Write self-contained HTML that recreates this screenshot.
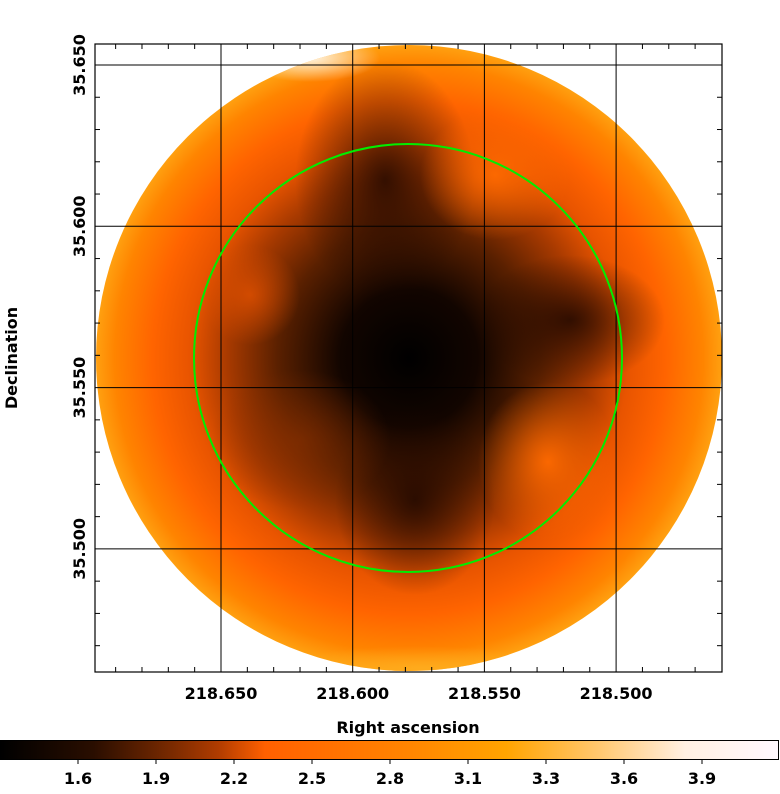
<!DOCTYPE html>
<html><head><meta charset="utf-8">
<style>
body{margin:0;background:#fff;width:780px;height:789px;overflow:hidden;font-family:"Liberation Sans","DejaVu Sans",sans-serif}
svg text{font-family:"DejaVu Sans","Liberation Sans",sans-serif;font-weight:bold;font-size:16px}
</style></head><body>
<svg id="s" width="780" height="789" viewBox="0 0 780 789">
<defs>
<clipPath id="disc"><circle cx="409" cy="358" r="313"/></clipPath>
<clipPath id="frame"><rect x="95" y="44" width="627" height="628"/></clipPath>
<radialGradient id="base" cx="409" cy="358" r="313" gradientUnits="userSpaceOnUse">
<stop offset="0" stop-color="#000"/>
<stop offset="0.22" stop-color="#120500"/>
<stop offset="0.42" stop-color="#5a2000"/>
<stop offset="0.58" stop-color="#a83a00"/>
<stop offset="0.7" stop-color="#e85400"/>
<stop offset="0.82" stop-color="#ff6400"/>
<stop offset="0.94" stop-color="#ff8400"/>
<stop offset="1" stop-color="#ffa010"/>
</radialGradient>
<radialGradient id="gDark"><stop offset="0" stop-color="#200800" stop-opacity="0.85"/><stop offset="1" stop-color="#200800" stop-opacity="0"/></radialGradient>
<radialGradient id="gBrown"><stop offset="0" stop-color="#8a3000" stop-opacity="0.6"/><stop offset="1" stop-color="#8a3000" stop-opacity="0"/></radialGradient>
<radialGradient id="gOrange"><stop offset="0" stop-color="#ff6a00" stop-opacity="0.95"/><stop offset="1" stop-color="#ff6a00" stop-opacity="0"/></radialGradient>
<radialGradient id="gRed"><stop offset="0" stop-color="#e05000" stop-opacity="0.8"/><stop offset="1" stop-color="#e05000" stop-opacity="0"/></radialGradient>
<radialGradient id="gWhite"><stop offset="0" stop-color="#fff4e4"/><stop offset="1" stop-color="#fff4e4" stop-opacity="0"/></radialGradient>
<radialGradient id="gYel"><stop offset="0" stop-color="#ffae20" stop-opacity="0.8"/><stop offset="1" stop-color="#ffae20" stop-opacity="0"/></radialGradient>
<linearGradient id="cbar" x1="0" x2="1" y1="0" y2="0">
<stop offset="0" stop-color="#000"/>
<stop offset="0.12" stop-color="#2a0e00"/>
<stop offset="0.22" stop-color="#7a2a00"/>
<stop offset="0.28" stop-color="#b03c00"/>
<stop offset="0.34" stop-color="#ff6000"/>
<stop offset="0.52" stop-color="#ff8400"/>
<stop offset="0.65" stop-color="#ffa400"/>
<stop offset="0.77" stop-color="#ffc870"/>
<stop offset="0.88" stop-color="#fff0e2"/>
<stop offset="1" stop-color="#fff8ff"/>
</linearGradient>
</defs>
<g clip-path="url(#frame)">
<g clip-path="url(#disc)">
<rect x="90" y="40" width="640" height="640" fill="url(#base)"/>
<ellipse cx="385" cy="180" rx="90" ry="120" fill="url(#gDark)"/>
<ellipse cx="570" cy="320" rx="95" ry="65" fill="url(#gDark)"/>
<ellipse cx="415" cy="500" rx="80" ry="95" fill="url(#gDark)"/>
<ellipse cx="300" cy="440" rx="90" ry="70" fill="url(#gBrown)"/>
<ellipse cx="250" cy="295" rx="50" ry="50" fill="url(#gRed)"/>
<ellipse cx="548" cy="462" rx="70" ry="80" fill="url(#gOrange)"/>
<ellipse cx="495" cy="175" rx="75" ry="65" fill="url(#gOrange)"/>
<ellipse cx="310" cy="58" rx="70" ry="24" fill="url(#gWhite)"/>
<ellipse cx="420" cy="668" rx="140" ry="22" fill="url(#gYel)"/>
</g>
</g>
<g id="grid"></g>
<circle cx="408" cy="358" r="214" fill="none" stroke="#00ee00" stroke-width="2"/>
<rect x="95" y="44" width="627" height="628" fill="none" stroke="#000" stroke-width="1.2"/>
<g id="ticks"></g>
<text x="408" y="733" text-anchor="middle">Right ascension</text>
<text transform="translate(17,358) rotate(-90)" text-anchor="middle">Declination</text>
<rect x="0.5" y="740.5" width="778" height="19" fill="url(#cbar)" stroke="#000"/>
<g id="cb"></g>
</svg>
<script>
const raTicks=[218.650,218.600,218.550,218.500];
const decTicks=[35.650,35.600,35.550,35.500];
const cbTicks=["1.6","1.9","2.2","2.5","2.8","3.1","3.3","3.6","3.9"];
const NS='http://www.w3.org/2000/svg';
function xRA(v){return 221+(218.650-v)/0.05*131.7;}
function yDec(v){return 65+(35.650-v)/0.05*161.3;}
function xCb(i){return 78+i*78;}
function mk(tag,attrs,parent){const e=document.createElementNS(NS,tag);for(const k in attrs)e.setAttribute(k,attrs[k]);parent.appendChild(e);return e;}
const grid=document.getElementById('grid'),ticks=document.getElementById('ticks'),cb=document.getElementById('cb');
raTicks.forEach(v=>{const x=xRA(v);
 const l=mk('line',{x1:x,x2:x,y1:44,y2:672,stroke:'#000','stroke-width':1},grid);
 
 
 const t=mk('text',{x:x,y:699,'text-anchor':'middle'},ticks);t.textContent=v.toFixed(3);
 
 
});
decTicks.forEach(v=>{const y=yDec(v);
 const l=mk('line',{x1:95,x2:722,y1:y,y2:y,stroke:'#000','stroke-width':1},grid);
 
 
 const t=mk('text',{transform:'translate(85,'+y+') rotate(-90)','text-anchor':'middle'},ticks);t.textContent=v.toFixed(3);
 
 
});
for(let k=-20;k<30;k++){const x=221+k*131.7/5;if(x>96&&x<721&&k%5!==0){
 mk('line',{x1:x,x2:x,y1:44,y2:49,stroke:'#000'},ticks);mk('line',{x1:x,x2:x,y1:667,y2:672,stroke:'#000'},ticks);}}
for(let k=-20;k<30;k++){const y=65+k*161.3/5;if(y>45&&y<671&&k%5!==0){
 mk('line',{x1:95,x2:100,y1:y,y2:y,stroke:'#000'},ticks);mk('line',{x1:717,x2:722,y1:y,y2:y,stroke:'#000'},ticks);}}
cbTicks.forEach((s,i)=>{const x=xCb(i);
 mk('line',{x1:x,x2:x,y1:759,y2:764,stroke:'#000'},cb);
 const t=mk('text',{x:x,y:784,'text-anchor':'middle'},cb);t.textContent=s;
 
 
});
</script>
</body></html>
